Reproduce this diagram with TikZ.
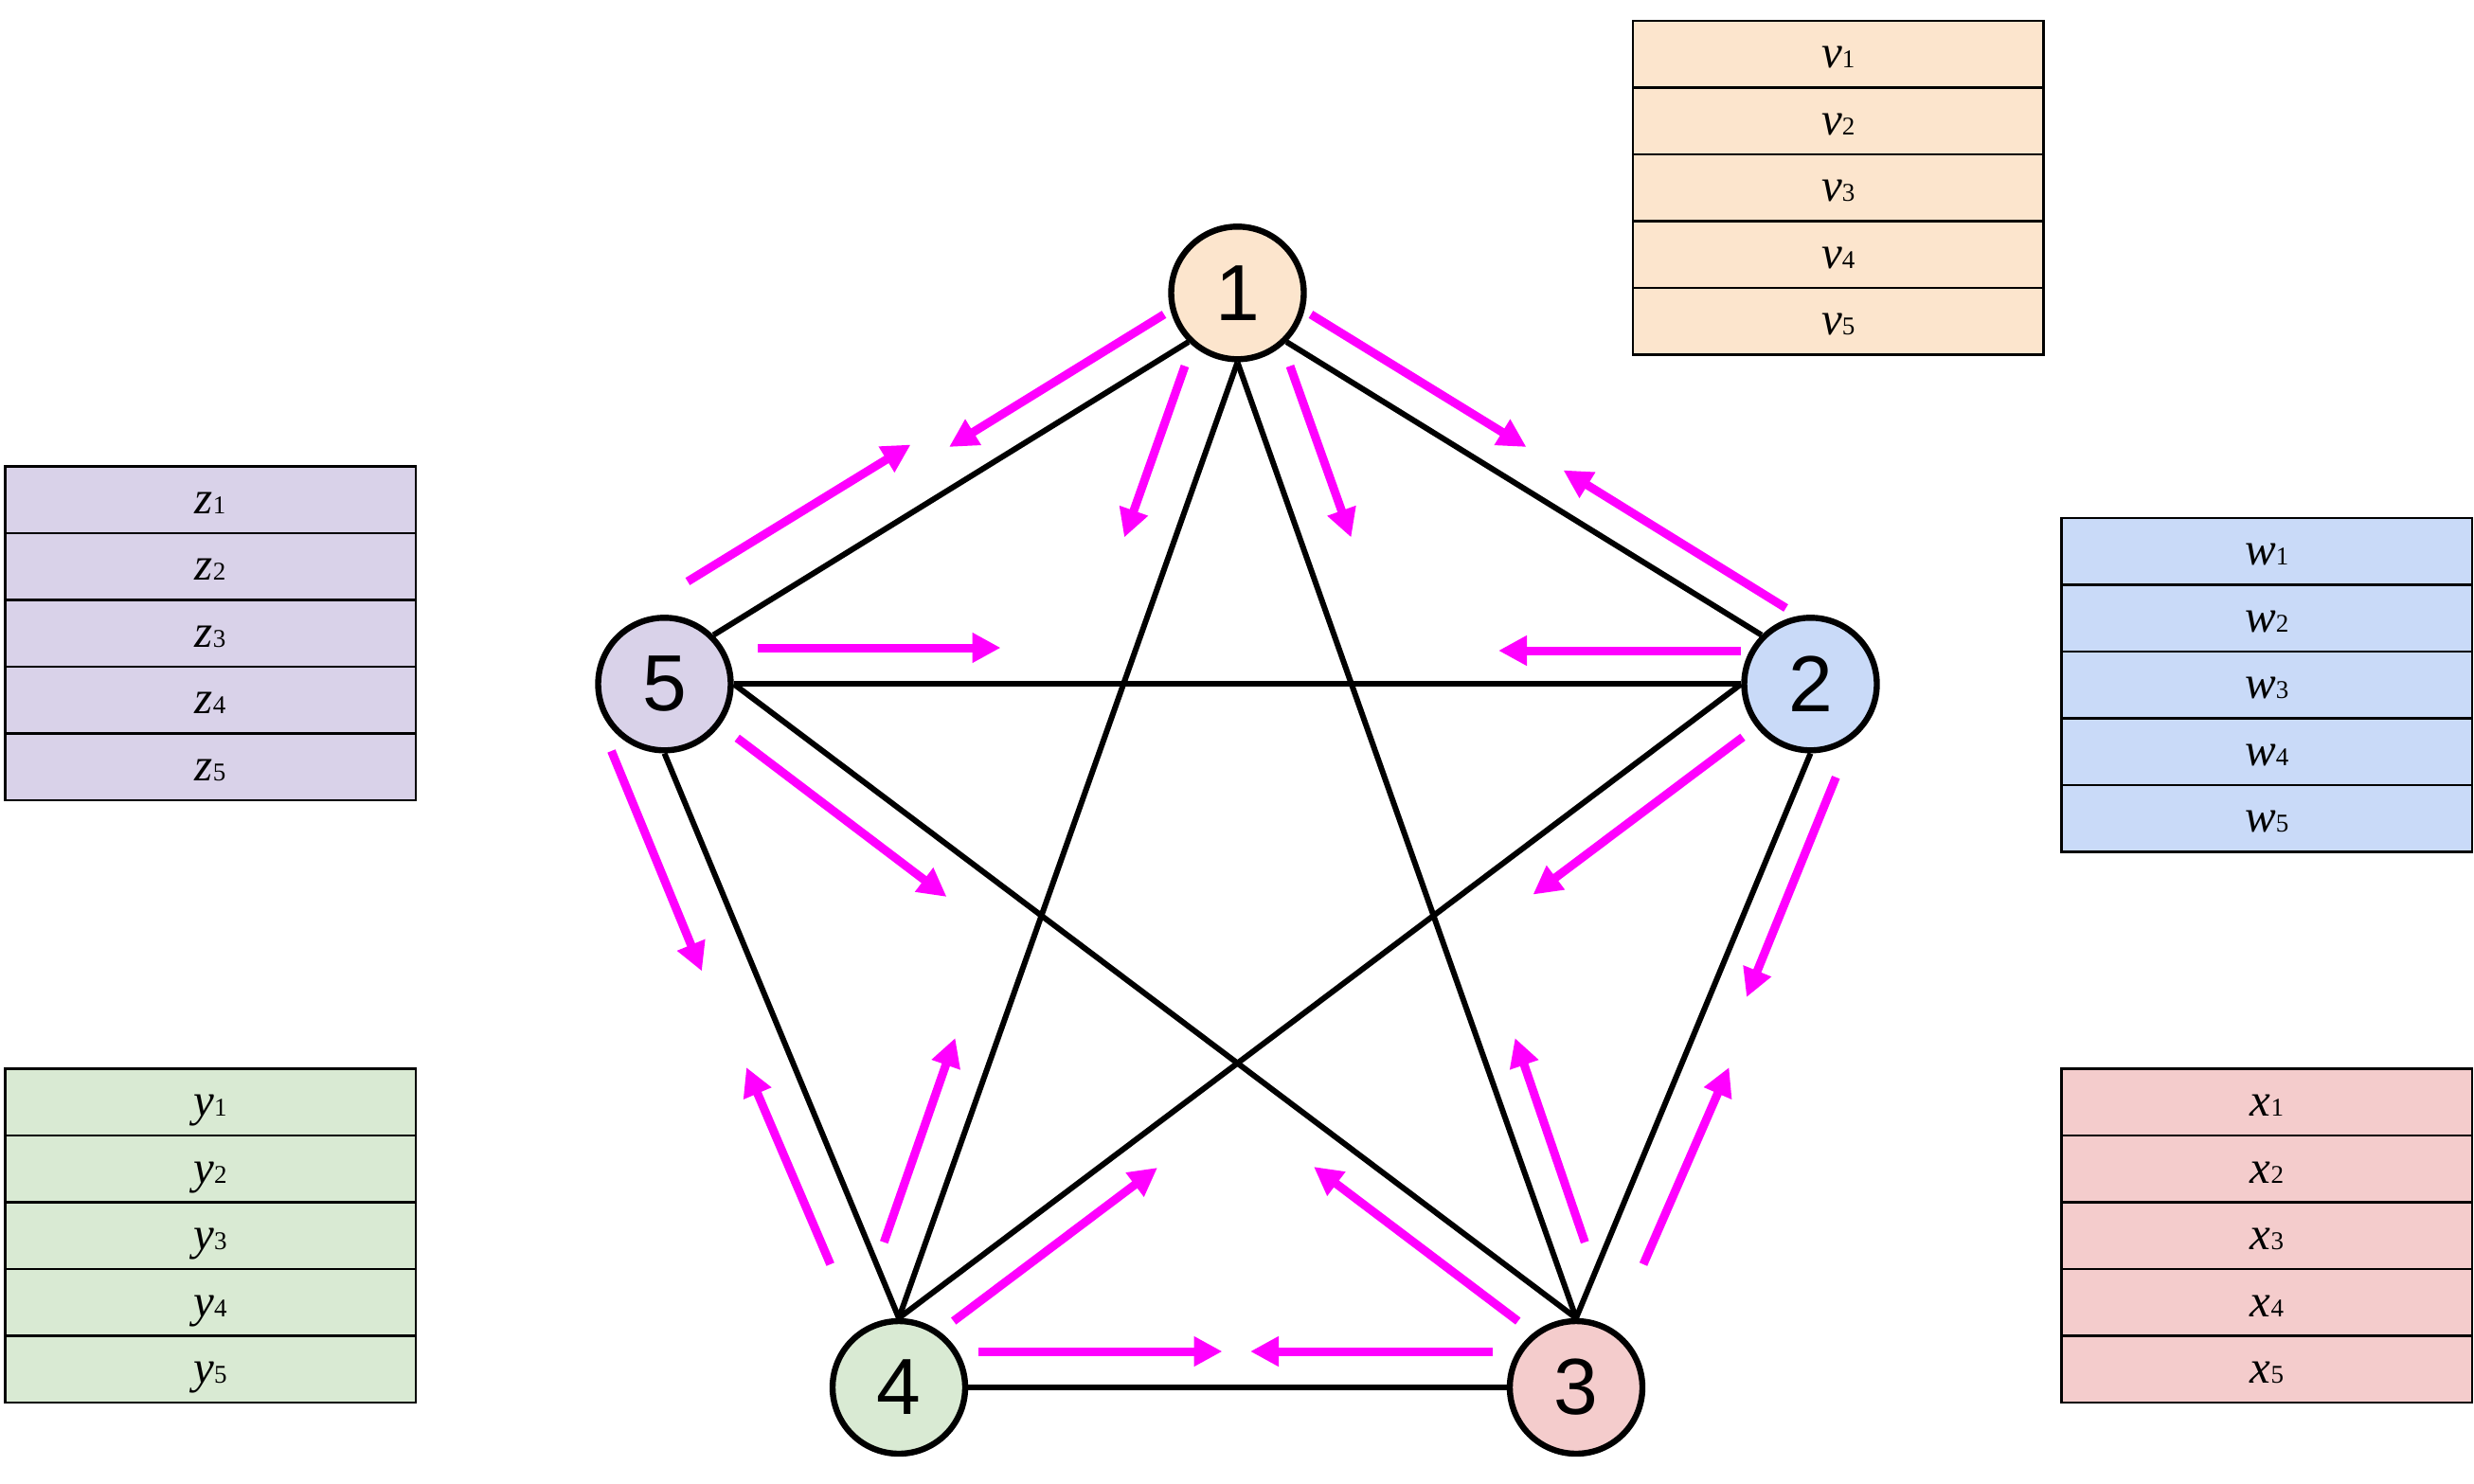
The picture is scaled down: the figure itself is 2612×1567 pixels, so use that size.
\documentclass[tikz,border=0pt]{standalone}
\usepackage{fontspec}
\setmainfont{Liberation Serif}
\newfontfamily\nodefont{Liberation Sans}
\usetikzlibrary{arrows.meta,backgrounds}
\definecolor{cv}{HTML}{FCE5CD}
\definecolor{cw}{HTML}{C9DAF8}
\definecolor{cx}{HTML}{F4CCCC}
\definecolor{cy}{HTML}{D9EAD3}
\definecolor{cz}{HTML}{D9D2E9}
\definecolor{mag}{HTML}{FF00FF}
\newcommand{\lbl}[2]{{\fontsize{24.5}{24.5}\selectfont\itshape #1}{\fontsize{13.5}{13.5}\selectfont #2}}
\begin{document}
\begin{tikzpicture}[x=0.5pt,y=-0.5pt,
  vertex/.style={circle,draw=black,line width=3.2pt,minimum size=70pt,inner sep=0pt,
    font=\nodefont\fontsize{42}{42}\selectfont},
  edge/.style={line width=3pt,draw=black},
  flow/.style={line width=4.5pt,draw=mag,-{Triangle[length=15pt,width=15pt]}},
  cell/.style={draw=black,line width=1.3pt,minimum width=216.75pt,minimum height=35.25pt,
    inner sep=0pt,text height=14.7pt,text depth=0pt,anchor=north west}
]
\useasboundingbox (0,0) rectangle (2612,1567);

% tables
\foreach \i in {1,...,5} {
  \node[cell,fill=cv] (v\i) at (1722.7,{20.7+(\i-1)*70.5}) {\lbl{v}{\i}};
  \node[cell,fill=cz] (z\i) at (4,{491+(\i-1)*70.5}) {\lbl{z}{\i}};
  \node[cell,fill=cw] (w\i) at (2175.3,{545.7+(\i-1)*70.5}) {\lbl{w}{\i}};
  \node[cell,fill=cy] (y\i) at (4,{1127.3+(\i-1)*70.5}) {\lbl{y}{\i}};
  \node[cell,fill=cx] (x\i) at (2175.3,{1127.3+(\i-1)*70.5}) {\lbl{x}{\i}};
}

% vertices
\node[vertex,fill=cv] (n1) at (1306.5,309.3) {1};
\node[vertex,fill=cw] (n2) at (1911.5,722.3) {2};
\node[vertex,fill=cx] (n3) at (1664,1465) {3};
\node[vertex,fill=cy] (n4) at (949,1465) {4};
\node[vertex,fill=cz] (n5) at (701.5,722.3) {5};

% background and edges
\begin{pgfonlayer}{background}
\fill[white] (0,0) rectangle (2612,1567);
\draw[edge] (n5.north east) -- (n1.south west);
\draw[edge] (n1.south east) -- (n2.north west);
\draw[edge] (n5.east) -- (n2.west);
\draw[edge] (n5.east) -- (n3.north);
\draw[edge] (n2.west) -- (n4.north);
\draw[edge] (n5.south) -- (n4.north);
\draw[edge] (n1.south) -- (n4.north);
\draw[edge] (n1.south) -- (n3.north);
\draw[edge] (n2.south) -- (n3.north);
\draw[edge] (n4.east) -- (n3.west);
\end{pgfonlayer}

% flow arrows: start and tip coordinates
\coordinate (s15) at (1229,332);    \coordinate (t15) at (1002,472);
\coordinate (s12) at (1384,332);    \coordinate (t12) at (1611.5,472);
\coordinate (s14) at (1251,386.5);  \coordinate (t14) at (1187,567.5);
\coordinate (s13) at (1362,386.5);  \coordinate (t13) at (1426.5,567.5);
\coordinate (s51) at (726,614);     \coordinate (t51) at (961.5,469.5);
\coordinate (s21) at (1885.5,642);  \coordinate (t21) at (1650.5,496.5);
\coordinate (s52) at (800,684);     \coordinate (t52) at (1056.5,684);
\coordinate (s25) at (1837.7,687);  \coordinate (t25) at (1582,687);
\coordinate (s53) at (778.3,779.3); \coordinate (t53) at (999.5,947);
\coordinate (s24) at (1840,778.3);  \coordinate (t24) at (1618.5,944.6);
\coordinate (s54) at (645.5,793);   \coordinate (t54) at (741,1025.5);
\coordinate (s23) at (1938.3,820.7);\coordinate (t23) at (1844,1053);
\coordinate (s45) at (876.7,1335);  \coordinate (t45) at (788,1127);
\coordinate (s32) at (1735,1335);   \coordinate (t32) at (1825.5,1127);
\coordinate (s41) at (933.3,1311.7);\coordinate (t41) at (1008.5,1096);
\coordinate (s31) at (1673.3,1311.7);\coordinate (t31) at (1599.5,1096);
\coordinate (s42) at (1006.7,1395); \coordinate (t42) at (1222,1233);
\coordinate (s35) at (1602.7,1395); \coordinate (t35) at (1387,1232);
\coordinate (s43) at (1033.3,1427); \coordinate (t43) at (1290.5,1427);
\coordinate (s34) at (1576,1427);   \coordinate (t34) at (1320,1427);
\foreach \a in {15,12,14,13,51,21,52,25,53,24,54,23,45,32,41,31,42,35,43,34}
  \draw[flow] (s\a) -- (t\a);
\end{tikzpicture}
\end{document}
